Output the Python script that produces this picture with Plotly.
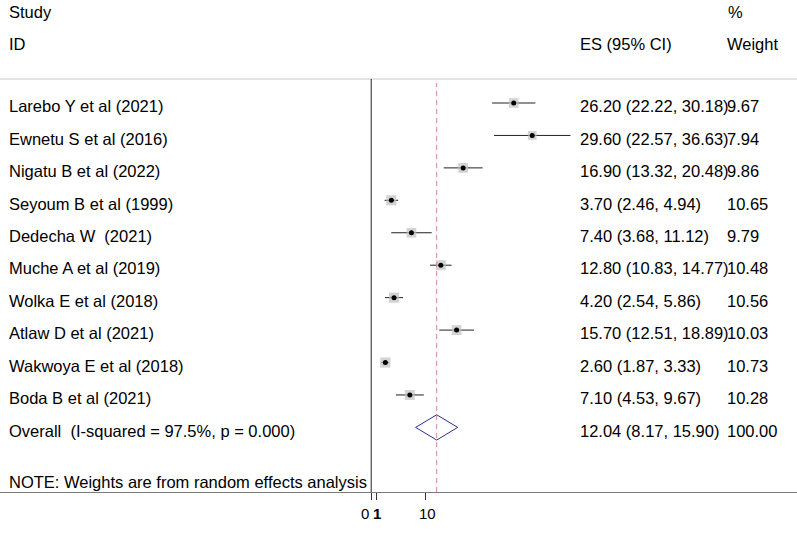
import plotly.graph_objects as go

studies = ["Larebo Y et al (2021)", "Ewnetu S et al (2016)", "Nigatu B et al (2022)",
           "Seyoum B et al (1999)", "Dedecha W  (2021)", "Muche A et al (2019)",
           "Wolka E et al (2018)", "Atlaw D et al (2021)", "Wakwoya E et al (2018)",
           "Boda B et al (2021)"]
es = [26.20, 29.60, 16.90, 3.70, 7.40, 12.80, 4.20, 15.70, 2.60, 7.10]
lo = [22.22, 22.57, 13.32, 2.46, 3.68, 10.83, 2.54, 12.51, 1.87, 4.53]
hi = [30.18, 36.63, 20.48, 4.94, 11.12, 14.77, 5.86, 18.89, 3.33, 9.67]
weights = [9.67, 7.94, 9.86, 10.65, 9.79, 10.48, 10.56, 10.03, 10.73, 10.28]

overall_label = "Overall  (I-squared = 97.5%, p = 0.000)"
overall_es, overall_lo, overall_hi, overall_w = 12.04, 8.17, 15.90, 100.00
note = "NOTE: Weights are from random effects analysis"
tick_vals = [0, 1, 10]
tick_text = ["0", "1", "10"]

W, H = 797, 546
PLOT_H = 492
FONT = "Liberation Sans, Arial, sans-serif"
FS = 16.5

rows = list(range(len(studies)))
overall_row = len(studies)

fig = go.Figure()

# CI lines
for r, l, h in zip(rows, lo, hi):
    fig.add_trace(go.Scatter(x=[l, h], y=[r, r], mode="lines",
                             line=dict(color="#222222", width=1), hoverinfo="skip"))

# weight squares
fig.add_trace(go.Scatter(x=es, y=rows, mode="markers",
                         marker=dict(symbol="square", color="#c0c0c0",
                                     size=[3.1 * w ** 0.5 for w in weights], line=dict(width=0)),
                         hoverinfo="skip"))
# point estimates
fig.add_trace(go.Scatter(x=es, y=rows, mode="markers",
                         marker=dict(symbol="circle", color="black", size=5, line=dict(width=0)),
                         hoverinfo="skip"))

# overall diamond
hd = 0.39
fig.add_trace(go.Scatter(x=[overall_lo, overall_es, overall_hi, overall_es, overall_lo],
                         y=[overall_row, overall_row - hd, overall_row, overall_row + hd, overall_row],
                         mode="lines", line=dict(color="#2b2b99", width=1), hoverinfo="skip"))

ann = []
def txt(x, y, s, xref="paper", yref="y", anchor="left", size=FS):
    ann.append(dict(x=x, y=y, xref=xref, yref=yref, text=s, showarrow=False,
                    xanchor=anchor, yanchor="middle", font=dict(family=FONT, size=size, color="black")))

TEXT_DY = 0.1
COL1, COL2, COL3 = 7, 578, 725
for r, s, e, l, h, w in zip(rows, studies, es, lo, hi, weights):
    txt(COL1 / W, r + TEXT_DY, s)
    txt(COL2 / W, r + TEXT_DY, f"{e:.2f} ({l:.2f}, {h:.2f})")
    txt(COL3 / W, r + TEXT_DY, f"{w:.2f}")
txt(COL1 / W, overall_row + TEXT_DY, overall_label)
txt(COL2 / W, overall_row + TEXT_DY, f"{overall_es:.2f} ({overall_lo:.2f}, {overall_hi:.2f})")
txt(COL3 / W, overall_row + TEXT_DY, f"{overall_w:.2f}")

def py(px):
    return 1 - px / PLOT_H

txt(COL1 / W, py(12), "Study", yref="paper")
txt(COL1 / W, py(44), "ID", yref="paper")
txt(COL2 / W, py(44), "ES (95% CI)", yref="paper")
txt((COL3 + 1) / W, py(12), "%", yref="paper")
txt(COL3 / W, py(44), "Weight", yref="paper")
txt(COL1 / W, py(482), note, yref="paper")

# tick labels
ann.append(dict(x=tick_vals[0], y=py(513), xref="x", yref="paper", text=tick_text[0], showarrow=False,
                xanchor="right", yanchor="middle", font=dict(family=FONT, size=15, color="black")))
ann.append(dict(x=tick_vals[1], y=py(513), xref="x", yref="paper", text="<b>" + tick_text[1] + "</b>", showarrow=False,
                xanchor="center", yanchor="middle", font=dict(family=FONT, size=15, color="black")))
ann.append(dict(x=tick_vals[2], y=py(513), xref="x", yref="paper", text=tick_text[2], showarrow=False,
                xanchor="center", yanchor="middle", xshift=2, font=dict(family=FONT, size=15, color="black")))

shapes = [
    dict(type="line", xref="paper", yref="paper", x0=0, x1=1, y0=py(79), y1=py(79),
         line=dict(color="#c8c8c8", width=1)),
    dict(type="line", xref="x", yref="paper", x0=0, x1=0, y0=0, y1=py(79),
         line=dict(color="#222222", width=1)),
    dict(type="line", xref="x", yref="paper", x0=overall_es, x1=overall_es, y0=0, y1=py(83),
         line=dict(color="#d4868a", width=1, dash="5px,4px")),
]

px_per_unit = 5.44
zero_px = 371.2
fig.update_layout(
    width=W, height=H, margin=dict(l=0, r=0, t=0, b=H - PLOT_H),
    paper_bgcolor="white", plot_bgcolor="white", showlegend=False,
    annotations=ann, shapes=shapes,
    xaxis=dict(range=[-zero_px / px_per_unit, (W - zero_px) / px_per_unit], showgrid=False, zeroline=False,
               showline=True, linecolor="#7a7a7a", linewidth=1, ticks="outside", ticklen=7,
               tickcolor="#333333", tickvals=tick_vals, showticklabels=False, fixedrange=True),
    yaxis=dict(range=[(PLOT_H - 103) / 32.44, -103 / 32.44], showgrid=False, zeroline=False,
               showline=False, showticklabels=False, ticks="", fixedrange=True),
)

fig.write_html("out.html", config={"displayModeBar": False, "staticPlot": True},
               post_script="document.body.style.margin='0';document.body.style.overflow='hidden';")
